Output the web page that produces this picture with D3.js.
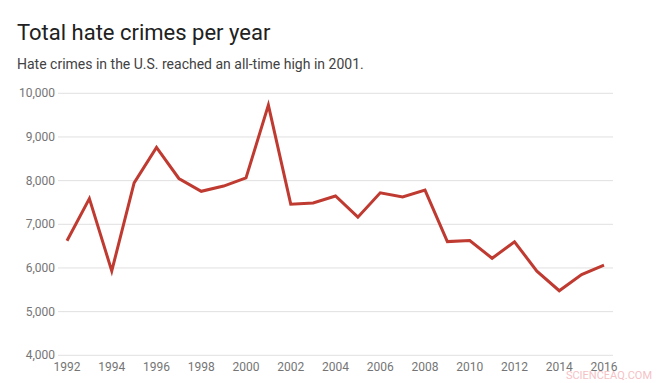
<!DOCTYPE html>
<html>
<head>
<meta charset="utf-8">
<script src="https://cdn.jsdelivr.net/npm/d3@7"></script>
<style>
  body { margin: 0; background: #fff; }
  svg { display: block; font-family: Roboto, "Noto Sans", sans-serif; }
</style>
</head>
<body>
<svg width="666" height="383"></svg>
<script>
var years = [1992, 1993, 1994, 1995, 1996, 1997, 1998, 1999, 2000, 2001, 2002, 2003,
  2004, 2005, 2006, 2007, 2008, 2009, 2010, 2011, 2012, 2013, 2014, 2015, 2016];
var crimes = [6623, 7587, 5932, 7947, 8759, 8049, 7755, 7876, 8063, 9730, 7462, 7489,
  7649, 7163, 7722, 7624, 7783, 6604, 6628, 6222, 6600, 5928, 5479, 5850, 6063];
var yTicks = [4000, 5000, 6000, 7000, 8000, 9000, 10000];
var xTicks = [1992, 1994, 1996, 1998, 2000, 2002, 2004, 2006, 2008, 2010, 2012, 2014, 2016];

var svg = d3.select("svg");

svg.append("text")
  .attr("x", 17).attr("y", 40)
  .style("font-size", "22px")
  .style("fill", "#212121")
  .text("Total hate crimes per year");

svg.append("text")
  .attr("x", 17).attr("y", 69)
  .style("font-size", "14px")
  .style("fill", "#424242")
  .text("Hate crimes in the U.S. reached an all-time high in 2001.");

var x = d3.scaleLinear().domain([1992, 2016]).range([67, 604]);
var y = d3.scaleLinear().domain([4000, 10000]).range([355.3, 93.3]);

// gridlines
svg.append("g")
  .selectAll("line")
  .data(yTicks)
  .enter().append("line")
    .attr("x1", 58).attr("x2", 613)
    .attr("y1", function(d) { return y(d); })
    .attr("y2", function(d) { return y(d); })
    .style("stroke", "#e0e0e0")
    .style("stroke-width", 1);

var fmt = d3.format(",");

svg.append("g")
  .selectAll("text")
  .data(yTicks)
  .enter().append("text")
    .attr("x", 55)
    .attr("y", function(d) { return y(d) + 4; })
    .attr("text-anchor", "end")
    .style("font-size", "12px")
    .style("fill", "#757575")
    .text(function(d) { return fmt(d); });

svg.append("g")
  .selectAll("text")
  .data(xTicks)
  .enter().append("text")
    .attr("x", function(d) { return x(d); })
    .attr("y", 371)
    .attr("text-anchor", "middle")
    .style("font-size", "12px")
    .style("fill", "#757575")
    .text(function(d) { return d; });

var line = d3.line()
  .x(function(d, i) { return x(years[i]); })
  .y(function(d) { return y(d); });

svg.append("path")
  .datum(crimes)
  .attr("d", line)
  .style("fill", "none")
  .style("stroke", "#bf3a30")
  .style("stroke-width", 3)
  .style("stroke-linejoin", "miter");

svg.append("text")
  .attr("x", 652).attr("y", 379)
  .attr("text-anchor", "end")
  .style("font-size", "11px")
  .style("fill", "#f4c2c6")
  .text("SCIENCEAQ.COM");
</script>
</body>
</html>
